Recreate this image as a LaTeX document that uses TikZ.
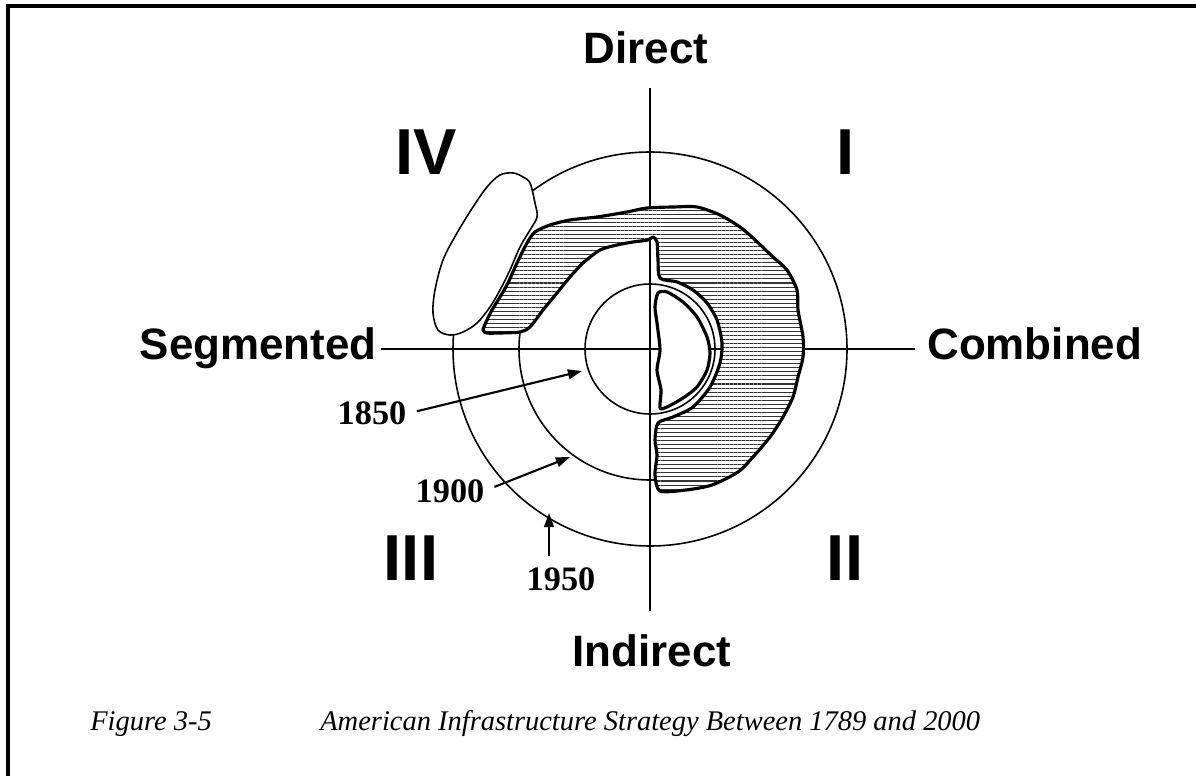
\documentclass[tikz,border=0pt]{standalone}
\usepackage{fontspec}
\setmainfont{Liberation Serif}
\setsansfont{Liberation Sans}
\usetikzlibrary{arrows.meta,patterns.meta}

\tikzset{
  axisline/.style={line width=0.9pt},
  ring/.style={line width=0.9pt},
  yeararrow/.style={line width=1.2pt,-{Triangle[length=8pt,width=5.5pt]}},
  blobedge/.style={line width=1.8pt,line join=round},
  axislabel/.style={font=\sffamily\bfseries\fontsize{25}{30}\selectfont,inner sep=0pt},
  quadlabel/.style={font=\sffamily\bfseries\fontsize{37}{44}\selectfont,inner sep=0pt,anchor=base},
  yearlabel/.style={font=\bfseries\fontsize{19.5}{23}\selectfont,inner sep=0pt,anchor=base},
  captionlabel/.style={font=\itshape\fontsize{16.2}{19}\selectfont,inner sep=0pt,anchor=base west},
}

\begin{document}
\begin{tikzpicture}[x=0.02cm,y=0.02cm]
  \useasboundingbox (0,0) rectangle (1196,-776);

  % --- frame ---
  \draw[line width=1.8pt] (8,-776) -- (8,-6) -- (1196,-6);

  % --- rings 1950, 1900, 1850 ---
  \coordinate (o) at (650,-349);
  \draw[ring] (o) circle[radius=197];
  \draw[ring] (o) circle[radius=131];
  \draw[ring] (o) circle[radius=65];

  % --- axis labels ---
  \node[axislabel,anchor=base] (direct) at (646,-64) {Direct};
  \node[axislabel,anchor=base] (indirect) at (652,-666) {Indirect};
  \node[axislabel,anchor=base east] (segmented) at (377,-360) {Segmented};
  \node[axislabel,anchor=base west] (combined) at (927,-360) {Combined};

  % --- axes ---
  \coordinate (ntop) at (650,-88);
  \coordinate (nbot) at (650,-611);
  \draw[axisline] (ntop) -- (nbot);
  \draw[axisline] ([xshift=2pt]segmented.east |- o) -- ([xshift=-7pt]combined.west |- o);

  % --- hatched area ---
  \draw[blobedge, preaction={fill=white},
        pattern={Lines[angle=0,distance=2.3pt,line width=0.6pt]}, pattern color=black!80]
    plot[smooth cycle, tension=0.45] coordinates {
      (483,-330) (487,-320) (492,-310) (500,-297) (508,-283) (517,-263)
      (527,-243) (535,-232) (550,-225) (570,-220) (597,-217) (627,-212)
      (647,-208) (673,-207) (697,-207) (720,-215) (740,-227) (753,-238)
      (773,-257) (787,-270) (797,-290) (798,-310) (803,-337) (803,-357)
      (798,-377) (793,-397) (783,-417) (770,-437) (753,-457) (738,-472)
      (712,-485) (686,-490) (660,-491) (655,-475) (657,-455) (655,-440)
      (658,-423) (673,-417) (693,-407) (710,-387) (720,-363) (722,-343)
      (717,-320) (707,-303) (693,-290) (677,-282) (660,-278) (658,-260)
      (657,-242) (653,-237) (648,-240) (633,-242) (617,-245) (600,-250)
      (583,-263) (570,-277) (557,-293) (543,-310) (530,-327) (520,-332)
      (500,-333) (487,-333)};

  % --- half moon ---
  \draw[blobedge, fill=white]
    plot[smooth cycle, tension=0.45] coordinates {
      (658,-293) (667,-292) (683,-302) (697,-317) (707,-337) (710,-353)
      (707,-370) (697,-387) (683,-398) (667,-407) (660,-408) (661,-390)
      (657,-370) (660,-350) (657,-323) (655,-307)};

  % --- white area (IV) ---
  \draw[line width=0.9pt, fill=white]
    plot[smooth cycle, tension=0.55] coordinates {
      (513,-173) (523,-177) (530,-183) (535,-203) (537,-217) (530,-230)
      (520,-247) (510,-270) (500,-290) (490,-307) (477,-323) (463,-332)
      (450,-335) (438,-330) (433,-313) (435,-290) (443,-260) (457,-233)
      (473,-207) (487,-187) (500,-175)};

  % --- quadrants ---
  \node[quadlabel] (qIV) at (426,-175) {IV};
  \node[quadlabel] (qI) at (846,-175) {I};
  \node[quadlabel] (qIII) at (411,-580) {III};
  \node[quadlabel] (qII) at (845,-580) {II};

  % --- years ---
  \node[yearlabel] (y1850) at (372,-425) {1850};
  \node[yearlabel] (y1900) at (450,-502) {1900};
  \node[yearlabel] (y1950) at (561,-590) {1950};
  \coordinate (t1850) at (582,-371);
  \coordinate (t1900) at (570,-457);
  \coordinate (t1950) at (549,-513);
  \draw[yeararrow, shorten <=6pt] (y1850.east) -- (t1850);
  \draw[yeararrow, shorten <=6pt] (y1900.east) -- (t1900);
  \draw[yeararrow] ([yshift=6pt]y1950.north -| t1950) -- (t1950);

  % --- caption ---
  \node[captionlabel] (figno) at (90,-730) {Figure 3-5};
  \node[captionlabel] (figtitle) at (320,-730) {American Infrastructure Strategy Between 1789 and 2000};

\end{tikzpicture}
\end{document}
